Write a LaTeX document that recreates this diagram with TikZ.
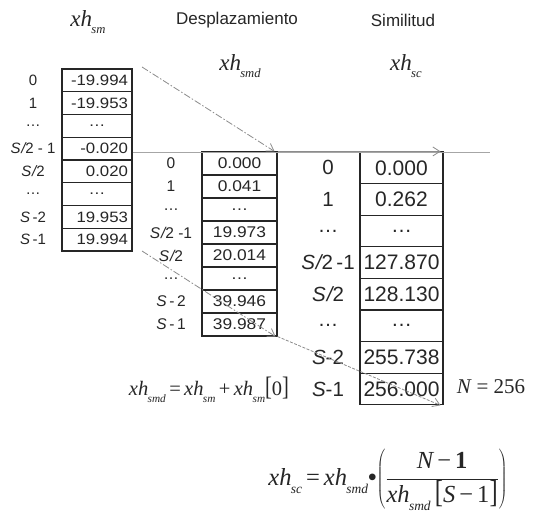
\documentclass[tikz,border=0pt]{standalone}
\usepackage{fontspec}
\setmainfont{Liberation Sans}
\newfontfamily\wsans[FakeStretch=1.12]{Liberation Sans}
\newfontfamily\tms{Liberation Serif}
\usetikzlibrary{arrows.meta,calc}
\newcommand{\setfs}[1]{\fontsize{#1}{#1}\selectfont}
\newcommand{\xhs}[1]{{\tms\itshape xh\kern-0.03em\raisebox{-0.32em}{\scalebox{0.55}{#1}}}}
\newcommand{\Sh}{{\itshape S\kern0.05em/}2}
\newcommand{\Sv}{{\itshape S}}
\newcommand{\dotsL}{\makebox[62pt][c]{\ldots}}
\tikzset{
  cellL/.style={draw=black!85, line width=1.1pt, minimum width=70, minimum height=22.75, inner sep=0pt, text width=62, align=right, font=\wsans\setfs{15}, text=black!85},
  cellM/.style={draw=black!85, line width=1.1pt, minimum width=75, minimum height=23, inner sep=0pt, font=\wsans\setfs{15.5}, text=black!85},
  cellR/.style={draw=black!85, line width=1.1pt, minimum width=83, minimum height=31.6, inner sep=0pt, font=\setfs{21}, text=black!85},
  idxL/.style={font=\setfs{15}, text=black!85, inner sep=0pt},
  idxM/.style={font=\setfs{15.5}, text=black!85, inner sep=0pt},
  idxR/.style={font=\setfs{20.5}, text=black!85, inner sep=0pt},
  hdr/.style={font=\setfs{17}, text=black!85},
  mlbl/.style={font=\setfs{23}, text=black!85, inner sep=0pt},
  dasharrow/.style={draw=black!45, line width=0.8pt, dash pattern=on 7pt off 2pt on 1.5pt off 2pt, -{Straight Barb[length=7pt,width=9pt]}},
  garrow/.style={draw=black!45, line width=0.8pt, -{Straight Barb[length=7pt,width=9pt]}}
}
\begin{document}
\begin{tikzpicture}[x=1pt,y=-1pt]
\useasboundingbox (0,0) rectangle (534,518);
\fill[white] (0,0) rectangle (534,518);

% headers
\node[mlbl] (hsm) at (88,22) {\xhs{sm}};
\node[hdr] (hdesp) at (237,20) {Desplazamiento};
\node[hdr] (hsim) at (403,20) {Similitud};
\node[mlbl] (hsmd) at (240,66) {\xhs{smd}};
\node[mlbl] (hsc) at (406,66) {\xhs{sc}};

% left column
\foreach \v [count=\i] in {-19.994,-19.953,\dotsL,-0.020,0.020,\dotsL,19.953,19.994}{
  \node[cellL] (L\i) at (97,{69+22.75*(\i-0.5)}) {\v};
}
\foreach \l [count=\i] in {0,1,\ldots,{\Sh\ - 1},\Sh,\ldots,{\Sv\,-2},{\Sv\,-1}}{
  \node[idxL] (LI\i) at (33,{69+22.75*(\i-0.5)}) {\l};
}

% middle column
\foreach \v [count=\i] in {0.000,0.041,\ldots,19.973,20.014,\ldots,39.946,39.987}{
  \node[cellM] (M\i) at (239.5,{152+23*(\i-0.5)}) {\v};
}
\foreach \l [count=\i] in {0,1,\ldots,{\Sh\ -1},\Sh,\ldots,{\Sv\,-\,2},{\Sv\,-\,1}}{
  \node[idxM] (MI\i) at (171,{152+23*(\i-0.5)}) {\l};
}

% right column
\foreach \v [count=\i] in {0.000,0.262,\ldots,127.870,128.130,\ldots,255.738,256.000}{
  \node[cellR] (R\i) at (401.5,{152+31.6*(\i-0.5)}) {\v};
}
\foreach \l [count=\i] in {0,1,\ldots,{\Sh\,-1},\Sh,\ldots,{\Sv-2},{\Sv-1}}{
  \node[idxR] (RI\i) at (328,{152+31.6*(\i-0.5)}) {\l};
}

% gray line
\coordinate (gend) at (490,152.5);
\draw[black!35, line width=1.3pt] (L4.east |- gend) -- (gend);

% arrows
\coordinate (a1) at (142,67);
\coordinate (a2) at (142,251);
\draw[dasharrow] (a1) -- ($(M1.north east)+(-3,0)$);
\draw[dasharrow] (a2) -- ($(M8.south east)+(-2,0)$);
\draw[dasharrow, dash pattern=on 3pt off 1.5pt] (M8.south east) -- ($(R8.south east)+(-3,0)$);
\draw[garrow] (M1.north east) -- ($(R1.north east)+(-3,0)$);

% formulas
\node[mlbl, font=\setfs{20.5}] (f1) at (209,390) {\xhs{smd}\,{\tms=}\,\xhs{sm}\,{\tms+}\,\xhs{sm}\scalebox{1}[1.3]{\tms[}{\tms 0}\scalebox{1}[1.3]{\tms]}};
\node[font=\setfs{21}, text=black!85] (nn) at (491,387) {{\tms\itshape N} {\tms = 256}};
\node[mlbl, font=\setfs{24.5}] (f2) at (388,480) {\xhs{sc}\,{\tms=}\,\xhs{smd}\textbullet$\left(\displaystyle\frac{\mbox{\tms\itshape N}\mbox{\tms\,\textminus\,\bfseries 1}}{\mbox{\xhs{smd}}\,\mbox{\tms\scalebox{1}[1.3]{[}\itshape S\upshape\,\textminus\,1\scalebox{1}[1.3]{]}}}\right)$};
\end{tikzpicture}
\end{document}
